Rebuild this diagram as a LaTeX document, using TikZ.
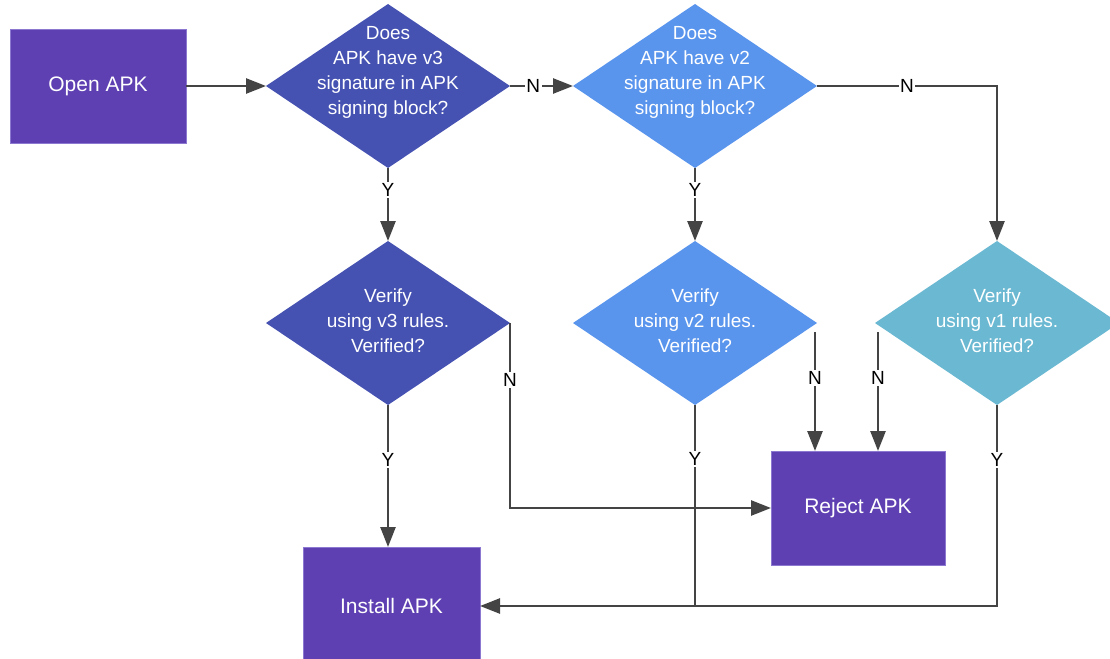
\documentclass[tikz,border=0pt]{standalone}
\usepackage{fontspec}
\setmainfont{Liberation Sans}
\usetikzlibrary{shapes.geometric,arrows.meta}
\definecolor{boxpurple}{HTML}{5E40B2}
\definecolor{boxedge}{HTML}{8C78D0}
\definecolor{indigoD}{HTML}{4552B2}
\definecolor{blueD}{HTML}{5A95ED}
\definecolor{tealD}{HTML}{6AB8D2}
\definecolor{linegray}{HTML}{444444}
\begin{document}
\begin{tikzpicture}[x=1pt,y=-1pt,
  box/.style={rectangle, fill=boxpurple, draw=boxedge, line width=0.8pt, text=white,
    font=\fontsize{21}{24}\selectfont, inner sep=0pt, outer sep=0pt},
  dia/.style={diamond, inner sep=0pt, outer sep=0pt, minimum width=244pt, minimum height=164pt},
  dtext/.style={text=white, align=center, font=\fontsize{19}{25}\selectfont},
  conn/.style={draw=linegray, line width=2.6pt, -{Triangle[length=20pt,width=15pt]}},
  plainline/.style={draw=linegray, line width=2.6pt},
  yn/.style={fill=white, text=black, font=\fontsize{19}{19}\selectfont, inner sep=1.5pt}
]
\useasboundingbox (0,0) rectangle (1110,658);

% boxes
\node[box, minimum width=176pt, minimum height=114pt] (open) at (98,86) {Open APK};
\node[box, minimum width=174pt, minimum height=114pt] (reject) at (858,508) {Reject APK};
\node[box, minimum width=177pt, minimum height=118pt] (install) at (391.5,606) {Install APK};

% diamonds
\node[dia, fill=indigoD, label={[dtext, yshift=13.5pt]center:Does\\APK have v3\\signature in APK\\signing block?}] (d1) at (388,86) {};
\node[dia, fill=blueD, label={[dtext, yshift=13.5pt]center:Does\\APK have v2\\signature in APK\\signing block?}] (d2) at (695,86) {};
\node[dia, fill=indigoD, label={[dtext, yshift=2pt]center:Verify\\using v3 rules.\\Verified?}] (d3) at (388,323) {};
\node[dia, fill=blueD, label={[dtext, yshift=2pt]center:Verify\\using v2 rules.\\Verified?}] (d4) at (695,323) {};
\node[dia, fill=tealD, label={[dtext, yshift=2pt]center:Verify\\using v1 rules.\\Verified?}] (d5) at (997,323) {};

\coordinate (d4n) at (815,332);
\coordinate (d5n) at (878,332);

% connectors
\draw[conn] (open.east) -- (d1.west);
\draw[conn] (d1.east) -- node[yn, pos=0.37] (n1) {N} (d2.west);
\draw[conn] (d2.east) -| node[yn, pos=0.25] (n2) {N} (d5.north);
\draw[conn] (d1.south) -- node[yn, pos=0.3] (y1) {Y} (d3.north);
\draw[conn] (d2.south) -- node[yn, pos=0.3] (y2) {Y} (d4.north);
\draw[conn] (d3.east) |- node[yn, pos=0.154] (n3) {N} (reject.west);
\draw[conn] (d4n) -- node[yn, pos=0.39] (n4) {N} (d4n |- reject.north);
\draw[conn] (d5n) -- node[yn, pos=0.39] (n5) {N} (d5n |- reject.north);
\draw[conn] (d3.south) -- node[yn, pos=0.39] (y3) {Y} (d3.south |- install.north);
\draw[plainline] (d4.south) -- node[yn, pos=0.27] (y4) {Y} (d4.south |- install.east);
\draw[conn] (d5.south) |- node[yn, pos=0.1375] (y5) {Y} (install.east);
\end{tikzpicture}
\end{document}
